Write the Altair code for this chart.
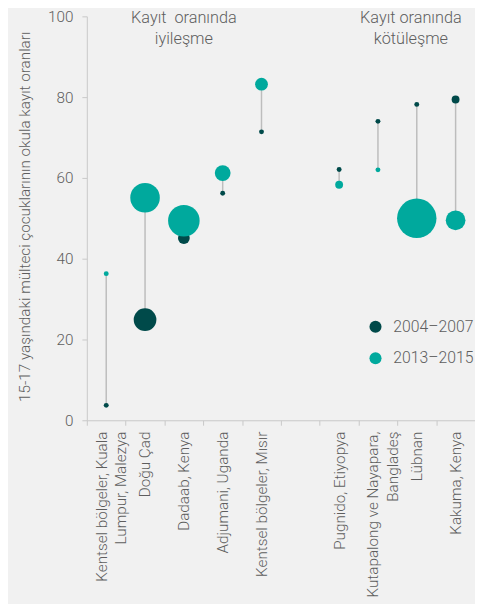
import altair as alt
import pandas as pd

# ---- data ----
categories = [
    "Kentsel bölgeler, Kuala|Lumpur, Malezya",
    "Doğu Çad",
    "Dadaab, Kenya",
    "Adjumani, Uganda",
    "Kentsel bölgeler, Mısır",
    " ",
    "Pugnido, Etiyopya",
    "Kutapalong ve Nayapara,|Bangladeş",
    "Lübnan",
    "Kakuma, Kenya",
]
rate_2004_2007 = [3.7, 24.9, 45.1, 56.2, 71.4, None, 62.1, 74.0, 78.2, 79.4]
rate_2013_2015 = [36.3, 55.1, 49.4, 61.2, 83.2, None, 58.3, 62.0, 50.0, 49.5]
# relative bubble weights (number of refugee children, relative units)
weight_2004_2007 = [25, 529, 144, 25, 25, None, 25, 25, 25, 64]
weight_2013_2015 = [25, 900, 1024, 256, 169, None, 64, 25, 1600, 400]
periods = ["2004–2007", "2013–2015"]
ann_left_text = ["Kayıt\u00a0 oranında", "iyileşme"]
ann_right_text = ["Kayıt oranında", "kötüleşme"]

DARK = "#004A4A"
TEAL = "#00A99D"
GRAY = "#5E5E5E"
FONT = "Roboto"
FW = 300

rows = []
for i, c in enumerate(categories):
    if rate_2004_2007[i] is not None:
        rows.append({"cat": c, "period": periods[0], "rate": rate_2004_2007[i],
                     "w": weight_2004_2007[i], "ord": 0})
for i, c in enumerate(categories):
    if rate_2013_2015[i] is not None:
        rows.append({"cat": c, "period": periods[1], "rate": rate_2013_2015[i],
                     "w": weight_2013_2015[i], "ord": 1})
long_df = pd.DataFrame(rows)

rule_df = pd.DataFrame({
    "cat": categories,
    "a": rate_2004_2007,
    "b": rate_2013_2015,
}).dropna()

xenc = alt.X("cat:N", scale=alt.Scale(domain=categories, paddingInner=0, paddingOuter=0),
             sort=categories,
             axis=alt.Axis(title=None, labelAngle=-90, labelAlign="right", labelBaseline="middle",
                           labelExpr="datum.value ? split(datum.value, '|') : ''",
                           labelLineHeight=20,
                           labelOffset={"expr": "datum.value && indexof(datum.value, '|') >= 0 ? -5 : 0"},
                           labelFontSize=15.5, labelColor=GRAY, labelFont=FONT, labelFontWeight=FW,
                           tickBand="extent", tickSize=5, tickColor="#c8c8c8",
                           domainColor="#c8c8c8", labelPadding=6, labelLimit=300))

yscale = alt.Scale(domain=[0, 100], nice=False)

rules = alt.Chart(rule_df).mark_rule(color="#bdbdbd", strokeWidth=1.5).encode(
    x=xenc,
    y=alt.Y("a:Q", scale=yscale),
    y2="b:Q",
)

points = alt.Chart(long_df).mark_circle(opacity=1).encode(
    x=xenc,
    y=alt.Y("rate:Q", scale=yscale,
            axis=alt.Axis(title="15-17 yaşındaki mülteci çocuklarının okula kayıt oranları",
                          values=[0, 20, 40, 60, 80, 100], grid=False,
                          labelFontSize=15.5, labelColor=GRAY, labelFont=FONT, labelFontWeight=FW,
                          labelPadding=9,
                          tickSize=5, tickColor="#c8c8c8", domainColor="#c8c8c8",
                          titleFontSize=15.5, titleFontWeight=FW, titleColor=GRAY,
                          titleFont=FONT, titleX=-63, titleY=203, titleAngle=-90,
                          titleAlign="center", titleBaseline="middle")),
    color=alt.Color("period:N", scale=alt.Scale(domain=periods, range=[DARK, TEAL]),
                    legend=alt.Legend(title=None, orient="none", legendX=285, legendY=307,
                                      symbolSize=150, symbolType="circle",
                                      labelFontSize=16, labelColor=GRAY, labelFont=FONT,
                                      labelFontWeight=FW,
                                      rowPadding=16, labelOffset=10)),
    size=alt.Size("w:Q", scale=alt.Scale(type="linear", domain=[0, 1600], range=[0, 1600]),
                  legend=None),
    order="ord:Q",
)

ann_left = alt.Chart(pd.DataFrame({"cat": ["Dadaab, Kenya"], "y": [100]})).mark_text(
    text=ann_left_text, baseline="top", align="center", dy=-6,
    fontSize=16.5, lineHeight=21, color=GRAY, font=FONT, fontWeight=FW,
).encode(x=alt.X("cat:N", scale=alt.Scale(domain=categories)), y=alt.Y("y:Q", scale=yscale))

ann_right = alt.Chart(pd.DataFrame({"cat": ["Lübnan"], "y": [100]})).mark_text(
    text=ann_right_text, baseline="top", align="center", dy=-6, dx=-6,
    fontSize=16.5, lineHeight=21, color=GRAY, font=FONT, fontWeight=FW,
).encode(x=alt.X("cat:N", scale=alt.Scale(domain=categories)), y=alt.Y("y:Q", scale=yscale))

chart = alt.layer(rules, points, ann_left, ann_right).properties(
    width=394, height=410,
    background="#F1F1F1",
    autosize=alt.AutoSizeParams(type="none"),
    padding={"left": 80, "top": 4, "right": 0, "bottom": 182},
).configure_view(stroke=None)

chart.save("out.html", embed_options={"renderer": "svg", "actions": False})
